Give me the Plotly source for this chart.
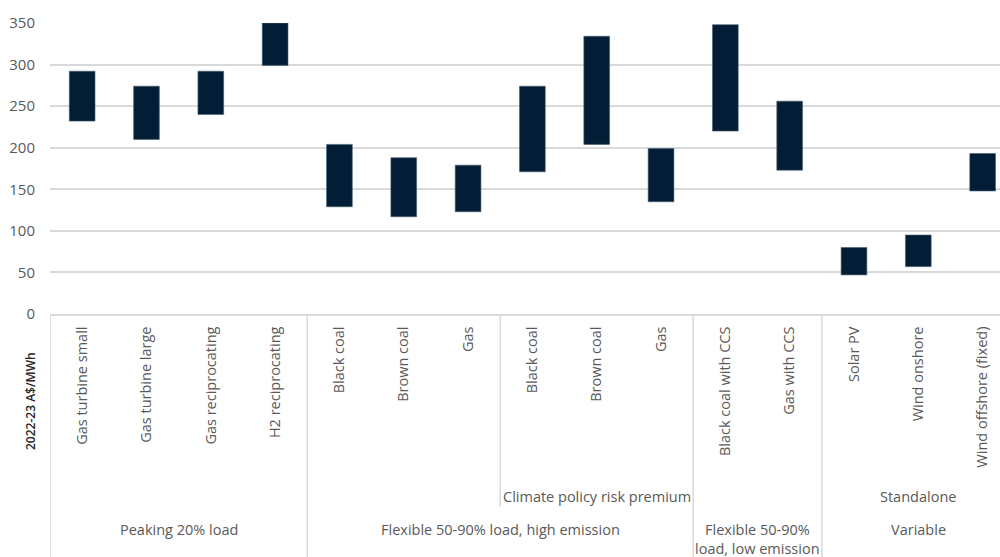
import plotly.graph_objects as go

categories = ["Gas turbine small", "Gas turbine large", "Gas reciprocating", "H2 reciprocating",
              "Black coal", "Brown coal", "Gas",
              "Black coal", "Brown coal", "Gas",
              "Black coal with CCS", "Gas with CCS",
              "Solar PV", "Wind onshore", "Wind offshore (fixed)"]
low = [232, 210, 240, 299, 129, 117, 123, 171, 204, 135, 220, 173, 47, 57, 148]
high = [292, 274, 292, 350, 204, 188, 179, 274, 334, 199, 348, 256, 80, 95, 193]

# group definitions: (label, first index, last index)
groups = [("Peaking 20% load", 0, 3),
          ("Flexible 50-90% load, high emission", 4, 9),
          ("Flexible 50-90%|load, low emission", 10, 11),
          ("Variable", 12, 14)]
subgroups = [("Climate policy risk premium", 7, 9), ("Standalone", 12, 14)]
y_ticks = [0, 50, 100, 150, 200, 250, 300, 350]

TXT = "#595959"
GRID = "#d9d9d9"
FONT = "Open Sans"
FS = 14.5

x = list(range(len(categories)))
fig = go.Figure()
fig.add_trace(go.Bar(
    x=x, y=[h - l for h, l in zip(high, low)], base=low,
    width=0.4, marker=dict(color="#021e36", line=dict(width=0.6, color="#4a5e70")),
    hoverinfo="skip", showlegend=False))

H = 557
top, bottom = 23, 314
def py(p):
    return (bottom - p) / (bottom - top)

shapes = []
bounds = [-0.5] + [g[2] + 0.5 for g in groups[:-1]]
for b in bounds:
    shapes.append(dict(type="line", xref="x", yref="paper", x0=b, x1=b, y0=0, y1=py(H + 5),
                       line=dict(color=GRID, width=1.5), layer="above"))
shapes.append(dict(type="line", xref="x", yref="paper", x0=6.5, x1=6.5, y0=0, y1=py(507),
                   line=dict(color=GRID, width=1.5), layer="above"))

annotations = []
for label, a, b in subgroups:
    annotations.append(dict(xref="x", yref="paper", x=(a + b) / 2, y=py(496), text=label,
                            showarrow=False, font=dict(family=FONT, size=FS, color=TXT),
                            xanchor="center", yanchor="middle"))
for label, a, b in groups:
    parts = label.split("|")
    for i, part in enumerate(parts):
        annotations.append(dict(xref="x", yref="paper", x=(a - 0.5 + b + 0.5) / 2,
                                y=py(529 + 19 * i), text=part, showarrow=False,
                                font=dict(family=FONT, size=FS, color=TXT),
                                xanchor="center", yanchor="middle"))
annotations.append(dict(xref="paper", yref="paper", x=(30 - 50) / 950, y=py(401),
                        text="2022-23 A$/MWh", textangle=-90, showarrow=False,
                        font=dict(family=FONT, size=12, color="#262626", weight=600),
                        xanchor="center", yanchor="middle"))

fig.update_layout(
    width=1000, height=557,
    margin=dict(l=50, r=0, t=top, b=H - bottom, pad=0),
    paper_bgcolor="white", plot_bgcolor="white",
    font=dict(family=FONT, color=TXT),
    shapes=shapes, annotations=annotations,
    xaxis=dict(range=[-0.5, 14.27], tickvals=x, ticktext=categories, tickangle=-90,
               showgrid=False, zeroline=False, showline=True, linecolor=GRID, linewidth=1.5,
               ticks="outside", ticklen=5, tickcolor="rgba(0,0,0,0)",
               tickfont=dict(family=FONT, size=FS, color=TXT)),
    yaxis=dict(range=[0, 350], tickvals=y_ticks, showgrid=True, gridcolor=GRID, gridwidth=1.5,
               zeroline=False, showline=False, ticks="", ticklabelstandoff=14,
               tickfont=dict(family=FONT, size=15, color=TXT)),
)

fig.write_html("out.html", config={"displayModeBar": False},
               post_script="document.body.style.margin='0';document.body.style.overflow='hidden';")
